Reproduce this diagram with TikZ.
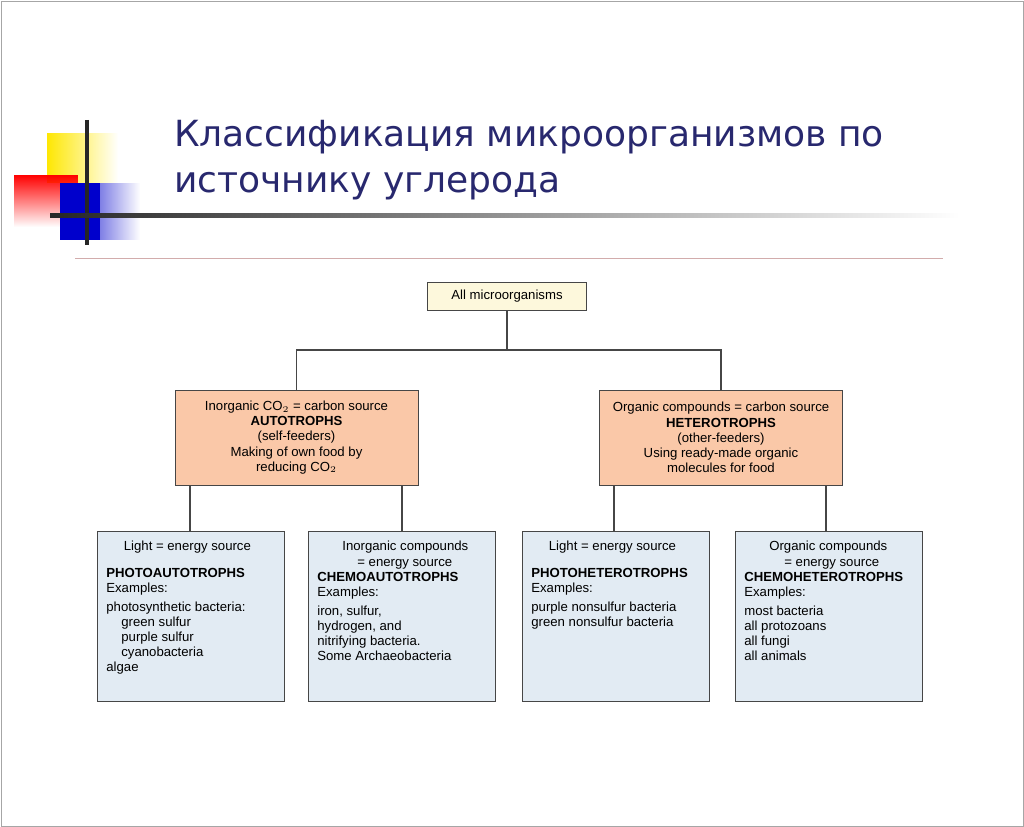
\documentclass[tikz,border=0pt]{standalone}
\usepackage{fontspec}
\setmainfont{Liberation Sans}
\newfontfamily\titlefont{DejaVu Sans}
\usetikzlibrary{calc,fadings}
\definecolor{titleblue}{RGB}{40,40,110}
\definecolor{topfill}{RGB}{253,248,220}
\definecolor{autofill}{RGB}{250,200,168}
\definecolor{kindfill}{RGB}{226,235,243}
\definecolor{linkgray}{RGB}{70,70,70}
\newcommand{\kindtext}[1]{\parbox[t][3.0cm][t]{3.38cm}{#1}}
\tikzset{
  topbox/.style={draw=linkgray, fill=topfill, minimum width=3.18cm, minimum height=0.56cm, font=\fontsize{7.5}{9}\selectfont},
  groupbox/.style={draw=linkgray, fill=autofill, minimum width=4.86cm, minimum height=1.9cm, align=center, font=\fontsize{7.5}{8.6}\selectfont},
  kindbox/.style={draw=linkgray, fill=kindfill, anchor=north west, inner xsep=0.18cm, inner ysep=0.2cm, minimum width=3.74cm, minimum height=3.4cm, font=\fontsize{7.5}{8.6}\selectfont},
  link/.style={draw=linkgray, line width=0.6pt}
}
\begin{document}
\begin{tikzpicture}[x=0.02cm, y=-0.02cm]
	\useasboundingbox (0,0) rectangle (1024,827);
	\draw[gray!70] (1,1) rectangle (1023,826);
	% decoration
	\fill[yellow!90!orange, path fading=east] (47,133) rectangle (118,183);
	\fill[red, path fading=south] (14,175) rectangle (78,227);
	\fill[blue!80!black, path fading=east] (60,183) rectangle (140,240);
	\fill[blue!80!black] (60,183) rectangle (100,240);
	\draw[line width=1.8pt, black!85] (87,120) -- (87,245);
	\shade[left color=black!85, right color=white] (50,214) rectangle (960,218);
	\draw[red!30!gray!50] (75,258) -- (943,258);
	% title
	\node[anchor=west, text=titleblue, font=\titlefont\fontsize{20.5}{26}\selectfont, align=left] (title) at (168,160)
		{Классификация микроорганизмов по\\источнику углерода};
	% diagram
	\node[topbox] (all) at (507,296) {All microorganisms};
	\node[groupbox] (auto) at (296.5,437.5) {Inorganic CO$_2$ = carbon source\\\textbf{AUTOTROPHS}\\(self-feeders)\\Making of own food by\\reducing CO$_2$};
	\node[groupbox] (hetero) at (721,437.5) {Organic compounds = carbon source\\\textbf{HETEROTROPHS}\\(other-feeders)\\Using ready-made organic\\molecules for food};
	\node[kindbox] (photoauto) at (97,531) {\kindtext{\hspace*{0.35cm}Light = energy source\\[1.6ex]\textbf{PHOTOAUTOTROPHS}\\Examples:\\[0.6ex]photosynthetic bacteria:\\\hspace*{0.3cm}green sulfur\\\hspace*{0.3cm}purple sulfur\\\hspace*{0.3cm}cyanobacteria\\algae}};
	\node[kindbox] (chemoauto) at (308,531) {\kindtext{\hspace*{0.5cm}Inorganic compounds\\\hspace*{0.8cm}= energy source\\\textbf{CHEMOAUTOTROPHS}\\Examples:\\[0.6ex]iron, sulfur,\\hydrogen, and\\nitrifying bacteria.\\Some Archaeobacteria}};
	\node[kindbox] (photohetero) at (522,531) {\kindtext{\hspace*{0.35cm}Light = energy source\\[1.6ex]\textbf{PHOTOHETEROTROPHS}\\Examples:\\[0.6ex]purple nonsulfur bacteria\\green nonsulfur bacteria}};
	\node[kindbox] (chemohetero) at (735,531) {\kindtext{\hspace*{0.5cm}Organic compounds\\\hspace*{0.8cm}= energy source\\\textbf{CHEMOHETEROTROPHS}\\Examples:\\[0.6ex]most bacteria\\all protozoans\\all fungi\\all animals}};
	\coordinate (split) at (507,350);
	\draw[link] (all) -- (split);
	\draw[link] (auto.north) -- (auto.north |- split) -- (hetero.north |- split) -- (hetero.north);
	\draw[link] (photoauto.north -| 190,0) -- (190,485);
	\draw[link] (chemoauto.north -| 402,0) -- (402,485);
	\draw[link] (photohetero.north -| 614,0) -- (614,485);
	\draw[link] (chemohetero.north -| 826,0) -- (826,485);
\end{tikzpicture}
\end{document}
